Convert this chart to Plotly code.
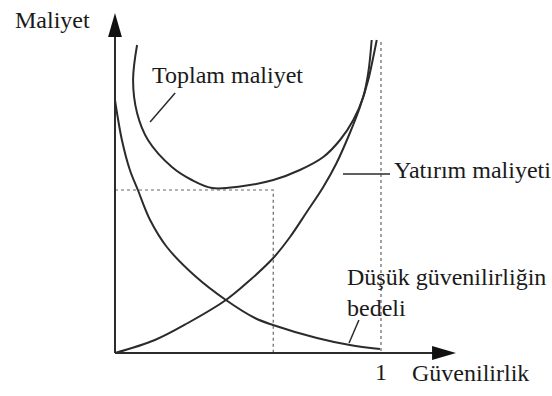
import plotly.graph_objects as go

# güvenilirlik (0..1) ve maliyet (keyfi birim) - resimden okunan noktalar
dusuk_x = [0.0, 0.026, 0.056, 0.086, 0.132, 0.195, 0.301, 0.417, 0.526, 0.594, 0.759, 0.883, 0.996]
dusuk_y = [2.53, 2.13, 1.83, 1.63, 1.33, 1.06, 0.77, 0.53, 0.35, 0.28, 0.15, 0.08, 0.04]

yatirim_x = [0.0, 0.150, 0.274, 0.417, 0.508, 0.595, 0.658, 0.721, 0.783, 0.833, 0.883, 0.921, 0.952, 0.971, 0.984]
yatirim_y = [0.0, 0.13, 0.30, 0.53, 0.73, 0.95, 1.16, 1.41, 1.66, 1.90, 2.20, 2.46, 2.73, 2.96, 3.13]

toplam_x = [0.083, 0.068, 0.083, 0.124, 0.214, 0.289, 0.365, 0.470, 0.595, 0.695, 0.783, 0.846, 0.896, 0.933, 0.952, 0.965]
toplam_y = [3.08, 2.73, 2.40, 2.13, 1.86, 1.73, 1.65, 1.665, 1.73, 1.83, 1.96, 2.13, 2.33, 2.56, 2.80, 3.13]

optimum_x = 0.595
optimum_y = 1.63
ust_sinir = 3.11

FONT = "Liberation Serif"
LINE = "#2b2b2b"

fig = go.Figure()

for xs, ys in [(dusuk_x, dusuk_y), (yatirim_x, yatirim_y), (toplam_x, toplam_y)]:
    fig.add_trace(go.Scatter(x=xs, y=ys, mode="lines",
                             line=dict(color=LINE, width=2, shape="spline", smoothing=1.0),
                             hoverinfo="skip", showlegend=False))

# noktali yardimci cizgiler
fig.add_trace(go.Scatter(x=[0, optimum_x, optimum_x], y=[optimum_y, optimum_y, 0], mode="lines",
                         line=dict(color="#666", width=1.2, dash="dot"), showlegend=False, hoverinfo="skip"))
fig.add_trace(go.Scatter(x=[1, 1], y=[ust_sinir, 0], mode="lines",
                         line=dict(color="#666", width=1.2, dash="dot"), showlegend=False, hoverinfo="skip"))

shapes = [
    # eksenler
    dict(type="line", x0=0, y0=0, x1=1.20, y1=0, line=dict(color=LINE, width=2)),
    dict(type="line", x0=0, y0=0, x1=0, y1=3.18, line=dict(color=LINE, width=2)),
    # ok uclari
    dict(type="path", path="M 1.192 0.07 L 1.282 0 L 1.192 -0.07 Z", fillcolor="#111", line=dict(width=0)),
    dict(type="path", path="M -0.026 3.16 L 0 3.40 L 0.026 3.16 Z", fillcolor="#111", line=dict(width=0)),
    # etiket cizgileri
    dict(type="line", x0=0.132, y0=2.31, x1=0.226, y1=2.60, line=dict(color=LINE, width=1.5)),
    dict(type="line", x0=0.857, y0=1.79, x1=1.034, y1=1.79, line=dict(color=LINE, width=1.5)),
    dict(type="line", x0=0.880, y0=0.10, x1=0.917, y1=0.33, line=dict(color=LINE, width=1.5)),
]

etiketler = [
    ("Maliyet", -0.383, 3.33),
    ("Toplam maliyet", 0.132, 2.78),
    ("Yatırım maliyeti", 1.041, 1.83),
    ("Düşük güvenilirliğin<br>bedeli", 0.865, 0.61),
    ("Güvenilirlik", 1.109, -0.20),
]
annotations = [dict(text=t, x=x, y=y, xref="x", yref="y", xanchor="left", yanchor="middle", align="left",
                    showarrow=False, font=dict(family=FONT, size=24, color="#1a1a1a"))
               for t, x, y in etiketler]
annotations.append(dict(text="1", x=1.0, y=-0.19, xref="x", yref="y", xanchor="center", yanchor="middle",
                        showarrow=False, font=dict(family=FONT, size=24, color="#1a1a1a")))

fig.update_layout(
    width=552, height=396,
    margin=dict(l=0, r=0, t=0, b=0),
    paper_bgcolor="white", plot_bgcolor="white",
    xaxis=dict(range=[-0.4323, 1.6429], visible=False, fixedrange=True),
    yaxis=dict(range=[-0.43, 3.53], visible=False, fixedrange=True),
    shapes=shapes,
    annotations=annotations,
)

fig.write_html("out.html", config={"displayModeBar": False},
               post_script="document.body.style.margin='0';document.body.style.overflow='hidden';")
